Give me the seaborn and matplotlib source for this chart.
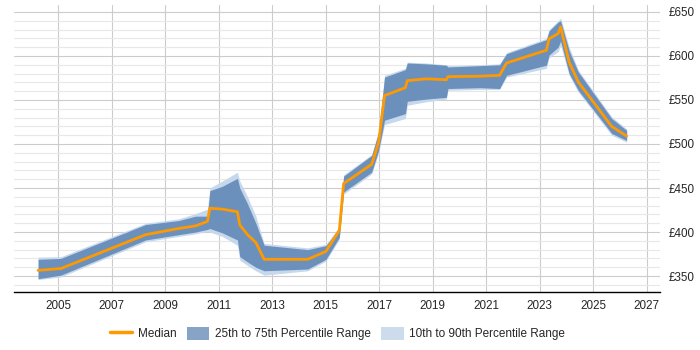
import matplotlib
matplotlib.use("Agg")
import matplotlib.pyplot as plt
import matplotlib.ticker as mticker
from matplotlib.patches import Patch
from matplotlib.lines import Line2D
import seaborn as sns
import pandas as pd

years = [2004.25, 2005.1, 2008.27, 2009.5, 2010.14, 2010.58, 2010.67, 2011.14, 2011.7,
         2011.79, 2012.08, 2012.39, 2012.7, 2014.33, 2015.01, 2015.51, 2015.67, 2016.72,
         2016.98, 2017.2, 2017.98, 2018.05, 2018.76, 2019.51, 2019.57, 2020.76, 2021.5,
         2021.76, 2023.25, 2023.35, 2023.69, 2023.78, 2024.1, 2024.44, 2025.69, 2026.25]
median = [356.5, 358.5, 397, 404, 407, 412, 427, 426, 423,
          408, 397, 388, 369, 369, 378, 402, 455, 477,
          502, 555, 564, 572, 574, 573, 576.5, 577, 578,
          592, 606.5, 619.5, 625.5, 633, 593, 570.5, 520, 509]
q25 = [347, 351, 391, 397, 400, 403, 404, 399, 391,
       372, 366, 360, 356, 358, 369, 394, 445.5, 468,
       493, 527, 534.5, 548.5, 551, 553, 563, 564, 563,
       578, 589.5, 601, 610, 617, 580, 561, 512, 504]
q75 = [369, 370, 408.5, 413, 418, 418, 447, 452, 461,
       450, 432, 410, 385, 380, 384.5, 404, 463.5, 487,
       513.5, 576, 584.5, 592, 591, 589.5, 587.5, 589, 590,
       602.5, 618.5, 628.5, 638.5, 640, 606, 582, 529, 515.5]
q10 = [346, 349, 389, 395, 398, 401, 400, 395, 385,
       368, 362, 356, 351, 356, 367, 392, 443, 466,
       490, 522, 529, 544, 548, 551, 561, 562, 562,
       576, 586, 598, 605, 612, 578, 559, 510, 502]
q90 = [371.5, 372, 410, 415, 421, 426, 450, 458, 468,
       458, 440, 418, 387, 382, 386, 406, 465, 488,
       515, 578, 586, 593, 592, 590, 589, 590, 591,
       604, 620, 630, 640, 643, 610, 584, 531, 517]

ytick_vals = [350, 400, 450, 500, 550, 600, 650]
xtick_vals = list(range(2005, 2028, 2))

df = pd.DataFrame({"year": years, "median": median, "q25": q25, "q75": q75,
                   "q10": q10, "q90": q90})

sns.set_style("white")
plt.rcParams["font.family"] = ["Liberation Sans", "DejaVu Sans"]

fig = plt.figure(figsize=(7, 3.5), dpi=100)
ax = fig.add_axes([0.02, 0.166, 0.923, 0.82])

c_light = "#c6d8ec"
c_dark = "#6c90bc"
c_med = "#ff9900"

ax.fill_between(df["year"], df["q10"], df["q90"], color=c_light, lw=0, zorder=2)
ax.fill_between(df["year"], df["q25"], df["q75"], color=c_dark, lw=0, zorder=3)
sns.lineplot(data=df, x="year", y="median", color=c_med, lw=2, ax=ax, zorder=4)

ax.set_xlim(2003.35, 2027.5)
ax.set_ylim(332, 658)
ax.set_xticks(xtick_vals)
ax.set_yticks(ytick_vals)
ax.yaxis.set_minor_locator(mticker.MultipleLocator(10))
ax.yaxis.tick_right()
ax.yaxis.set_major_formatter(mticker.FuncFormatter(lambda v, p: f"£{v:.0f}"))
ax.grid(True, which="major", axis="both", color="#cccccc", lw=0.8, zorder=0)
ax.grid(True, which="minor", axis="y", color="#e8e8e8", lw=0.8, zorder=0)
ax.set_axisbelow(True)
for s in ["left", "right", "top"]:
    ax.spines[s].set_visible(False)
ax.spines["bottom"].set_color("black")
ax.spines["bottom"].set_linewidth(1)
ax.tick_params(axis="x", length=4, width=0.8, color="#333333", labelsize=8.4, pad=2)
ax.tick_params(axis="y", which="both", length=0, labelsize=8.4, pad=6)
ax.set_xlabel("")
ax.set_ylabel("")

handles = [Line2D([0], [0], color=c_med, lw=2.5),
           Patch(facecolor="#87a3c6", edgecolor="none"),
           Patch(facecolor="#ccdcec", edgecolor="none")]
labels = ["Median", "25th to 75th Percentile Range", "10th to 90th Percentile Range"]
fig.legend(handles, labels, loc="center", bbox_to_anchor=(0.482, 0.047), ncol=3,
           frameon=False, fontsize=8.5, handlelength=1.9, handleheight=1.3,
           handletextpad=0.45, columnspacing=0.9)

fig.savefig("out.png", dpi=100)
